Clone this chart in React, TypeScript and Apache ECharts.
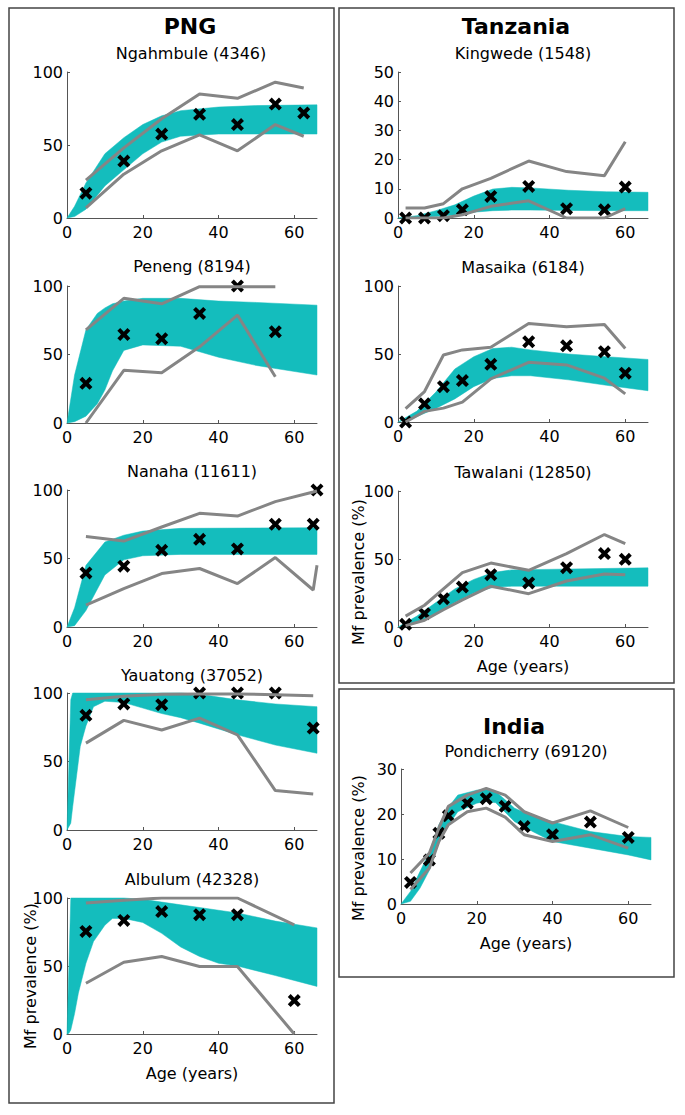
import React, { useEffect, useRef } from "react";
import * as echarts from "echarts";

// ---------- DATA ----------
// PNG
const ngahAge = [5, 15, 25, 35, 45, 55, 62.5];
const ngahObs = [17, 39, 57.5, 71, 64, 78, 72];
const ngahUp = [26, 48, 68, 85, 82, 93, 89];
const ngahLo = [7, 30, 46, 57, 46, 64, 56];
const ngahBandX = [0, 2, 5, 10, 15, 20, 25, 30, 40, 50, 66];
const ngahBandHi = [0, 8, 24, 44, 55, 64, 70, 73.5, 76, 77, 77.5];
const ngahBandLo = [0, 1, 6, 22, 33, 44, 52, 56, 57.5, 57.5, 57.5];

const penAge = [5, 15, 25, 35, 45, 55];
const penObs = [29, 64.6, 61.5, 80, 100, 66.6];
const penUp = [68, 91, 87, 99.5, 99.5, 99.5];
const penLo = [0, 38.5, 36.6, 55.6, 78.8, 33.7];
const penBandX = [0, 2, 5, 8, 10, 12, 15, 20, 30, 40, 50, 66];
const penBandHi = [0, 35, 68, 80, 84, 87, 89, 91, 91, 89, 88, 86];
const penBandLo = [0, 1, 5, 14, 24, 38, 53, 57, 56, 48, 42, 35];

const nanAge = [5, 15, 25, 35, 45, 55, 65, 66];
const nanObs = [39.5, 44.4, 56, 64, 57, 75, 75, 100];
const nanUp = [66, 62.7, 73, 83, 81, 91.5, 98.5, 99.3];
const nanLo = [16, 28, 39, 42.7, 31.7, 50.7, 27, 45];
const nanBandX = [0, 2, 5, 10, 15, 20, 30, 66];
const nanBandHi = [0, 14, 45, 62, 67, 70, 72, 72.5];
const nanBandLo = [0, 1, 12, 38, 49, 52, 53, 53];

const yauAge = [5, 15, 25, 35, 45, 55, 65];
const yauObs = [83.7, 92, 91.5, 100, 100, 100, 74.4];
const yauUp = [95, 97.6, 99, 99.3, 99.3, 98.8, 98];
const yauLo = [63.4, 80, 73, 81.7, 69.5, 28.8, 26.3];
const yauBandX = [0, 1, 1.5, 3.5, 5, 7, 10, 15, 20, 25, 30, 35, 45, 55, 66];
const yauBandHi = [0, 95, 100, 100, 100, 100, 100, 100, 100, 100, 100, 99, 95, 92, 90];
const yauBandLo = [0, 5, 17, 61, 76, 90, 94, 93, 89, 85, 82, 78, 69.5, 62, 56];

const albAge = [5, 15, 25, 35, 45, 60];
const albObs = [75.4, 83.5, 90, 87.7, 87.7, 24.6];
const albUp = [96.3, 98.3, 100, 100, 100, 80.3];
const albLo = [37.3, 52.8, 57, 49.6, 49.6, 0];
const albBandX = [0, 0.5, 1, 2, 3, 5, 7, 10, 12, 15, 20, 25, 30, 35, 40, 45, 55, 66];
const albBandHi = [0, 50, 100, 100, 100, 100, 100, 100, 100, 100, 99, 97, 95, 93, 91, 89, 83, 78];
const albBandLo = [0, 0.5, 3, 15, 30, 52, 68, 80, 85, 85, 82, 74, 64, 57, 52, 50, 43, 35];

// Tanzania
const tzAge = [2, 7, 12, 17, 24.5, 34.5, 44.5, 54.5, 60];
const kinObs = [0, 0, 0.8, 2.8, 7.4, 10.8, 3.2, 2.8, 10.6];
const kinUp = [3.4, 3.4, 4.9, 10, 13.6, 19.5, 15.9, 14.5, 26.1];
const kinLo = [0, 0, 0, 1.1, 4, 5.9, 0, 0, 3.2];
const kinBandX = [0, 5, 10, 15, 20, 25, 30, 35, 45, 55, 66];
const kinBandHi = [0, 0.8, 2.5, 4.5, 7.5, 9.9, 10.5, 10.3, 9.5, 9, 8.8];
const kinBandLo = [0, 0.2, 0.5, 1, 2, 2.5, 2.7, 2.7, 2.6, 2.5, 2.5];

const masObs = [0, 13.4, 26, 30.5, 42.4, 59, 56, 51.7, 35.9];
const masUp = [9.8, 22.4, 49.3, 53, 55, 72.4, 70, 71.7, 54];
const masLo = [0, 7.8, 10.2, 14.6, 31.7, 43.9, 42, 32.2, 20.7];
const masBandX = [0, 5, 10, 15, 20, 25, 30, 35, 45, 55, 66];
const masBandHi = [0, 8, 22, 39, 48, 54, 55, 53, 50, 48, 46];
const masBandLo = [0, 4, 10, 17, 26, 32, 34, 34, 31, 27, 23];

const tawObs = [2, 9.8, 20.8, 29.4, 38.5, 32.4, 43.6, 54, 49.8];
const tawUp = [8, 16, 28, 40, 47, 41.7, 54, 68, 61.3];
const tawLo = [1, 5, 12.7, 20, 30, 24.5, 33.8, 39, 38.5];
const tawBandX = [0, 5, 10, 15, 20, 25, 30, 66];
const tawBandHi = [0, 8, 18, 28, 35, 40, 42, 43.5];
const tawBandLo = [0, 3, 10, 18, 25, 29, 30, 30];

// India
const indAge = [2.5, 7.5, 10, 12.5, 17.5, 22.5, 27.5, 32.5, 40, 50, 60];
const indObs = [4.8, 9.8, 15.7, 19.6, 22.4, 23.4, 21.7, 17.2, 15.4, 18.2, 14.8];
const indUp = [6.9, 11.3, 16.9, 21.7, 24.2, 25.7, 24.2, 20.5, 18, 20.7, 17];
const indLo = [3.2, 8, 13.9, 17.6, 20.5, 21.3, 19.3, 15.4, 13.9, 15.4, 12.4];
const indBandX = [0, 2.5, 5, 7.5, 10, 12.5, 15, 20, 22.5, 25, 30, 35, 40, 50, 60, 66];
const indBandHi = [0, 2.8, 7.2, 11.5, 17.6, 21.5, 24.2, 25.3, 25.5, 25, 21.3, 19.5, 18.3, 16.1, 15, 14.8];
const indBandLo = [0, 0.6, 3.5, 7.5, 13.9, 17.5, 20.5, 22.4, 22.8, 22.5, 18.3, 16, 13.9, 12.4, 10.9, 9.8];

const xTicks = [0, 20, 40, 60];

// ---------- LAYOUT ----------
type Panel = {
  left: number; top: number; width: number; height: number;
  yMax: number; yInt: number;
  age: number[]; obs: number[]; up: number[]; lo: number[];
  bx: number[]; bhi: number[]; blo: number[];
};

const panels: Panel[] = [
  { left: 67, top: 72, width: 250, height: 146, yMax: 100, yInt: 50, age: ngahAge, obs: ngahObs, up: ngahUp, lo: ngahLo, bx: ngahBandX, bhi: ngahBandHi, blo: ngahBandLo },
  { left: 67, top: 286, width: 250, height: 137, yMax: 100, yInt: 50, age: penAge, obs: penObs, up: penUp, lo: penLo, bx: penBandX, bhi: penBandHi, blo: penBandLo },
  { left: 67, top: 490, width: 250, height: 137, yMax: 100, yInt: 50, age: nanAge, obs: nanObs, up: nanUp, lo: nanLo, bx: nanBandX, bhi: nanBandHi, blo: nanBandLo },
  { left: 67, top: 693, width: 250, height: 137, yMax: 100, yInt: 50, age: yauAge, obs: yauObs, up: yauUp, lo: yauLo, bx: yauBandX, bhi: yauBandHi, blo: yauBandLo },
  { left: 67, top: 898, width: 250, height: 136, yMax: 100, yInt: 50, age: albAge, obs: albObs, up: albUp, lo: albLo, bx: albBandX, bhi: albBandHi, blo: albBandLo },
  { left: 398, top: 72, width: 250, height: 146, yMax: 50, yInt: 10, age: tzAge, obs: kinObs, up: kinUp, lo: kinLo, bx: kinBandX, bhi: kinBandHi, blo: kinBandLo },
  { left: 398, top: 286, width: 250, height: 136, yMax: 100, yInt: 50, age: tzAge, obs: masObs, up: masUp, lo: masLo, bx: masBandX, bhi: masBandHi, blo: masBandLo },
  { left: 398, top: 491, width: 250, height: 136, yMax: 100, yInt: 50, age: tzAge, obs: tawObs, up: tawUp, lo: tawLo, bx: tawBandX, bhi: tawBandHi, blo: tawBandLo },
  { left: 401, top: 769, width: 250, height: 135, yMax: 30, yInt: 10, age: indAge, obs: indObs, up: indUp, lo: indLo, bx: indBandX, bhi: indBandHi, blo: indBandLo },
];

const FONT = "DejaVu Sans";
const CYAN = "#14BDBD";
const GREY = "#858585";
const AXIS = "#555555";
const CROSS = "path://M2.2,0L5,2.8L7.8,0L10,2.2L7.2,5L10,7.8L7.8,10L5,7.2L2.2,10L0,7.8L2.8,5L0,2.2Z";

function txt(text: string, x: number, y: number, size: number, bold = false, rotation = 0) {
  return {
    type: "text",
    x, y, rotation,
    z: 10,
    style: {
      text,
      fill: "#000",
      fontSize: size,
      fontWeight: bold ? "bold" : "normal",
      fontFamily: FONT,
      align: "center",
      verticalAlign: "middle",
      textAlign: "center",
      textVerticalAlign: "middle",
    },
  };
}

function box(x: number, y: number, w: number, h: number) {
  return {
    type: "rect",
    z: 0,
    shape: { x, y, width: w, height: h },
    style: { fill: "none", stroke: "#444", lineWidth: 1.5 },
  };
}

export default function App() {
  const ref = useRef<HTMLDivElement>(null);

  useEffect(() => {
    if (!ref.current) return;
    const chart = echarts.init(ref.current, null, { renderer: "svg" });

    const grid = panels.map((p) => ({ left: p.left, top: p.top, width: p.width, height: p.height, containLabel: false }));
    const xAxis = panels.map((p, i) => ({
      type: "value",
      gridIndex: i,
      min: 0,
      max: 66,
      axisLine: { show: true, onZero: false, lineStyle: { color: AXIS, width: 1 } },
      axisTick: { show: true, inside: true, length: 3, customValues: xTicks, lineStyle: { color: AXIS } },
      axisLabel: { customValues: xTicks, color: "#000", fontSize: 16, fontFamily: FONT, margin: 6 },
      splitLine: { show: false },
    }));
    const yAxis = panels.map((p, i) => ({
      type: "value",
      gridIndex: i,
      min: 0,
      max: p.yMax,
      interval: p.yInt,
      axisLine: { show: true, onZero: false, lineStyle: { color: AXIS, width: 1 } },
      axisTick: { show: true, inside: true, length: 3, lineStyle: { color: AXIS } },
      axisLabel: { color: "#000", fontSize: 16, fontFamily: FONT, margin: 4 },
      splitLine: { show: false },
    }));

    const series: any[] = [];
    panels.forEach((p, i) => {
      const bandData = p.bx.map((x, k) => [x, p.blo[k], p.bhi[k]]);
      series.push({
        type: "custom",
        xAxisIndex: i,
        yAxisIndex: i,
        data: bandData,
        encode: { x: 0, y: [1, 2] },
        silent: true,
        renderItem: (params: any, api: any) => {
          if (params.dataIndex !== 0) return null;
          const pts: number[][] = [];
          for (let k = 0; k < bandData.length; k++) pts.push(api.coord([bandData[k][0], bandData[k][2]]));
          for (let k = bandData.length - 1; k >= 0; k--) pts.push(api.coord([bandData[k][0], bandData[k][1]]));
          return {
            type: "polygon",
            shape: { points: pts },
            style: { fill: CYAN, stroke: CYAN, lineWidth: 0.5 },
          };
        },
      });
      series.push({
        type: "line",
        xAxisIndex: i,
        yAxisIndex: i,
        data: p.age.map((x, k) => [x, p.up[k]]),
        showSymbol: false,
        symbol: "none",
        lineStyle: { color: GREY, width: 3 },
        silent: true,
      });
      series.push({
        type: "line",
        xAxisIndex: i,
        yAxisIndex: i,
        data: p.age.map((x, k) => [x, p.lo[k]]),
        showSymbol: false,
        symbol: "none",
        lineStyle: { color: GREY, width: 3 },
        silent: true,
      });
      series.push({
        type: "scatter",
        xAxisIndex: i,
        yAxisIndex: i,
        data: p.age.map((x, k) => [x, p.obs[k]]),
        symbol: CROSS,
        symbolSize: 13,
        itemStyle: { color: "#000", opacity: 1 },
        clip: false,
        silent: true,
      });
    });

    const graphic = [
      box(9, 8, 325, 1095),
      box(339, 8, 335, 675),
      box(339, 689, 335, 288),
      txt("PNG", 190, 26, 22, true),
      txt("Ngahmbule (4346)", 191, 53, 16),
      txt("Peneng (8194)", 192, 266, 16),
      txt("Nanaha (11611)", 192, 471, 16),
      txt("Yauatong (37052)", 192, 675, 16),
      txt("Albulum (42328)", 192, 879, 16),
      txt("Mf prevalence (%)", 30, 976, 16, false, Math.PI / 2),
      txt("Age (years)", 192, 1073, 16),
      txt("Tanzania", 516, 26, 22, true),
      txt("Kingwede (1548)", 523, 53, 16),
      txt("Masaika (6184)", 523, 267, 16),
      txt("Tawalani (12850)", 523, 472, 16),
      txt("Mf prevalence (%)", 358, 572, 16, false, Math.PI / 2),
      txt("Age (years)", 523, 666, 16),
      txt("India", 514, 726, 22, true),
      txt("Pondicherry (69120)", 526, 751, 16),
      txt("Mf prevalence (%)", 358, 848, 16, false, Math.PI / 2),
      txt("Age (years)", 526, 943, 16),
    ];

    chart.setOption({
      animation: false,
      backgroundColor: "#fff",
      grid,
      xAxis,
      yAxis,
      series,
      graphic,
    });

    return () => chart.dispose();
  }, []);

  return (
    <div
      ref={ref}
      style={{ position: "absolute", left: 0, top: 0, width: 685, height: 1115, background: "#fff" }}
    />
  );
}
